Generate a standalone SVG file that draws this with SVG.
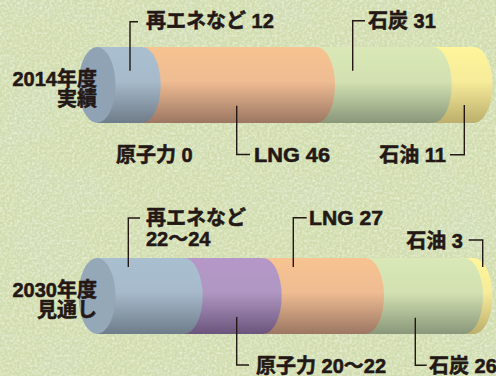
<svg xmlns="http://www.w3.org/2000/svg" width="496" height="376" viewBox="0 0 496 376">
<defs>
<style>
text{font-family:"Liberation Sans","Noto Sans CJK JP",sans-serif;font-weight:bold;font-size:20px;fill:#231815;stroke:#231815;stroke-width:0.55}
.end{text-anchor:end}
.ld{fill:none;stroke:#231815;stroke-width:1.4}
</style>
<linearGradient id="gBlue" x1="0" y1="0" x2="0" y2="1"><stop offset="0" stop-color="#a9bfd0"/><stop offset="0.45" stop-color="#a6bacb"/><stop offset="1" stop-color="#6f7c89"/></linearGradient>
<linearGradient id="gOrange" x1="0" y1="0" x2="0" y2="1"><stop offset="0" stop-color="#f7c390"/><stop offset="0.45" stop-color="#efbc93"/><stop offset="1" stop-color="#9c7762"/></linearGradient>
<linearGradient id="gGreen" x1="0" y1="0" x2="0" y2="1"><stop offset="0" stop-color="#d9e8b6"/><stop offset="0.45" stop-color="#d3e1b2"/><stop offset="1" stop-color="#8a977a"/></linearGradient>
<linearGradient id="gYellow" x1="0" y1="0" x2="0" y2="1"><stop offset="0" stop-color="#fff59a"/><stop offset="0.45" stop-color="#f6ec9a"/><stop offset="1" stop-color="#bcae6c"/></linearGradient>
<linearGradient id="gPurple" x1="0" y1="0" x2="0" y2="1"><stop offset="0" stop-color="#b597c8"/><stop offset="0.45" stop-color="#b097c3"/><stop offset="1" stop-color="#6b557c"/></linearGradient>
<filter id="grass" x="0" y="0" width="100%" height="100%">
<feTurbulence type="fractalNoise" baseFrequency="0.012 0.018" numOctaves="4" seed="7" result="n1"/>
<feColorMatrix in="n1" type="matrix" values="0 0 0 0 0.62  0 0 0 0 0.72  0 0 0 0 0.5  1.6 0 0 0 -0.75" result="c1"/>
<feTurbulence type="fractalNoise" baseFrequency="0.4" numOctaves="2" seed="2" result="n2"/>
<feColorMatrix in="n2" type="matrix" values="0 0 0 0 0.95  0 0 0 0 0.97  0 0 0 0 0.86  1.2 0 0 0 -0.45" result="c2"/>
<feMerge><feMergeNode in="c1"/><feMergeNode in="c2"/></feMerge>
</filter>
</defs>
<rect width="496" height="376" fill="#d0dcad"/>
<rect width="496" height="376" filter="url(#grass)"/>

<g id="bar2014">
<g id="oil2014"><path d="M433.2,47 H474 A18.5,38 0 0 1 474,123 H433.2 Z" fill="url(#gYellow)"/></g>
<g id="coal2014"><path d="M316.5,47 H433.2 A18.5,38 0 0 1 433.2,123 H316.5 Z" fill="url(#gGreen)"/></g>
<g id="lng2014"><path d="M142.2,47 H316.5 A18.5,38 0 0 1 316.5,123 H142.2 Z" fill="url(#gOrange)"/></g>
<g id="re2014"><path d="M97,47 H142.2 A18.5,38 0 0 1 142.2,123 H97 Z" fill="url(#gBlue)"/></g>
<ellipse id="face2014" cx="97" cy="85" rx="18.5" ry="38" fill="#8fa3b4"/>
</g>

<g id="bar2030">
<g id="oil2030"><path d="M464.5,258 H474 A18.5,38 0 0 1 474,334 H464.5 Z" fill="url(#gYellow)"/></g>
<g id="coal2030"><path d="M365.5,258 H464.5 A18.5,38 0 0 1 464.5,334 H365.5 Z" fill="url(#gGreen)"/></g>
<g id="lng2030"><path d="M263.2,258 H365.5 A18.5,38 0 0 1 365.5,334 H263.2 Z" fill="url(#gOrange)"/></g>
<g id="nuc2030"><path d="M184.2,258 H263.2 A18.5,38 0 0 1 263.2,334 H184.2 Z" fill="url(#gPurple)"/></g>
<g id="re2030"><path d="M97,258 H184.2 A18.5,38 0 0 1 184.2,334 H97 Z" fill="url(#gBlue)"/></g>
<ellipse id="face2030" cx="97" cy="296" rx="18.5" ry="38" fill="#94a8b8"/>
</g>

<g id="connectors">
<path class="ld" d="M138,21.7 H130 V70.7"/>
<path class="ld" d="M365,20.7 H352.7 V70.7"/>
<path class="ld" d="M236.7,105.7 V154.5 H250"/>
<path class="ld" d="M450,154.7 H464.3 V105"/>
<path class="ld" d="M140,218 H128.3 V267"/>
<path class="ld" d="M306.7,217.7 H293.3 V267"/>
<path class="ld" d="M468.7,240 H482.7 V267"/>
<path class="ld" d="M236.7,317 V365 H249"/>
<path class="ld" d="M415.3,317.7 V365.3 H426.7"/>
</g>

<g id="labels2014">
<text class="end" x="97" y="86">2014年度</text>
<text class="end" x="97" y="106">実績</text>
<text x="146" y="28">再エネなど 12</text>
<text x="368" y="28">石炭 31</text>
<text x="116" y="162">原子力 0</text>
<text x="254" y="162" textLength="76" lengthAdjust="spacingAndGlyphs">LNG 46</text>
<text class="end" x="446" y="162">石油 11</text>
</g>
<g id="labels2030">
<text class="end" x="97" y="297">2030年度</text>
<text class="end" x="97" y="317">見通し</text>
<text x="146" y="225">再エネなど</text>
<text x="146" y="246">22～24</text>
<text x="309" y="225" textLength="74" lengthAdjust="spacingAndGlyphs">LNG 27</text>
<text class="end" x="463" y="248">石油 3</text>
<text x="256" y="373">原子力 20～22</text>
<text x="429" y="373">石炭 26</text>
</g>
</svg>
